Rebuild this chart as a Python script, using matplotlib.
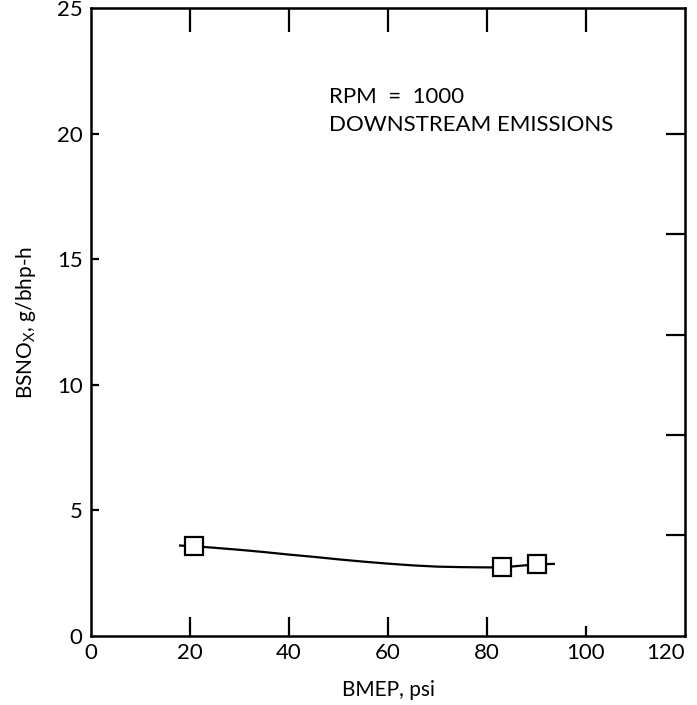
import matplotlib
matplotlib.use("Agg")
import matplotlib.pyplot as plt

# measured points (squares)
bmep = [20.9, 83.0, 90.1]
bsnox = [3.57, 2.73, 2.85]

# faired curve
curve_x = [18.0, 21.0, 25.0, 30.0, 35.0, 40.0, 45.0, 50.0, 55.0, 60.0, 65.0,
           70.0, 75.0, 80.0, 83.0, 87.0, 90.0, 93.5]
curve_y = [3.60, 3.57, 3.51, 3.43, 3.34, 3.24, 3.15, 3.05, 2.96, 2.88, 2.81,
           2.76, 2.74, 2.73, 2.73, 2.80, 2.85, 2.87]

xticks = [0, 20, 40, 60, 80, 100, 120]
yticks = [0, 5, 10, 15, 20, 25]
right_ticks = [4, 8, 12, 16, 20]
top_ticks = [20, 40, 60, 80, 100]

plt.rcParams['font.family'] = ['Lato', 'DejaVu Sans']

fig = plt.figure(figsize=(6.97, 7.05), dpi=100)
ax = fig.add_axes([0.1306, 0.0979, 0.8522, 0.8908])

ax.plot(curve_x, curve_y, color="black", lw=1.6, zorder=2)
ax.plot(bmep, bsnox, ls="none", marker="s", ms=13, mfc="white", mec="black", mew=1.6, zorder=3)

ax.set_xlim(0, 120)
ax.set_ylim(0, 25)
ax.set_xticks(xticks)
ax.set_yticks(yticks)
ax.tick_params(axis="both", direction="in", labelsize=16, width=1.6)
ax.tick_params(axis="x", length=14, pad=5)
ax.tick_params(axis="y", length=6, pad=6)

# bottom tick at 100 shorter; no tick at 0/120
for t, v in zip(ax.xaxis.get_major_ticks(), xticks):
    if v == 100:
        t.tick1line.set_markersize(7)
    if v in (0, 120):
        t.tick1line.set_visible(False)
for t, v in zip(ax.yaxis.get_major_ticks(), yticks):
    if v in (0, 25):
        t.tick1line.set_visible(False)
ax.get_xticklabels()[-1].set_horizontalalignment("right")

for s in ax.spines.values():
    s.set_linewidth(1.8)

top = ax.secondary_xaxis("top")
top.set_xticks(top_ticks)
top.set_xticklabels([])
top.tick_params(direction="in", length=17, width=1.6)

right = ax.secondary_yaxis("right")
right.set_yticks(right_ticks)
right.set_yticklabels([])
right.tick_params(direction="in", length=14, width=1.6)

ax.set_xlabel("BMEP, psi", fontsize=15, labelpad=12)
ax.set_ylabel("BSNO$_\\mathregular{X}$, g/bhp-h", fontsize=15, labelpad=14)

ax.text(48, 21.47, "RPM  =  1000", fontsize=16, ha="left", va="center")
ax.text(48, 20.36, "DOWNSTREAM EMISSIONS", fontsize=16, ha="left", va="center")

fig.savefig("out.png", dpi=100)
